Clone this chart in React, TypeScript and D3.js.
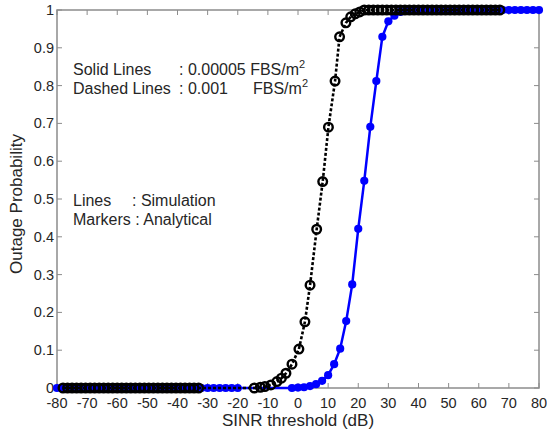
import React from "react";
import * as d3 from "d3";

// Blue series (0.00005 FBS/m^2): analytical markers
const blueX = [
  -80, -78, -76, -74, -72, -70, -68, -66, -64, -62, -60, -58, -56, -54, -52, -50,
  -48, -46, -44, -42, -40, -38, -36, -34, -32, -30, -28, -26, -24, -22, -20,
  -2, 0, 2, 4, 6, 8, 10, 12, 14, 16, 18, 20, 22, 24, 26, 28, 30, 32,
  34, 36, 38, 40, 42, 44, 46, 48, 50, 52, 54, 56, 58, 60, 62, 64, 66, 68, 70, 72, 74, 76, 78, 80,
];
const blueY = [
  0, 0, 0, 0, 0, 0, 0, 0, 0, 0, 0, 0, 0, 0, 0, 0,
  0, 0, 0, 0, 0, 0, 0, 0, 0, 0, 0, 0, 0, 0, 0,
  0, 0.001, 0.002, 0.005, 0.01, 0.019, 0.034, 0.063, 0.104, 0.177, 0.274, 0.421, 0.548, 0.691, 0.812, 0.929, 0.97, 0.985,
  0.995, 1, 1, 1, 1, 1, 1, 1, 1, 1, 1, 1, 1, 1, 1, 1, 1, 1, 1, 1, 1, 1, 1, 1,
];

// Black series (0.001 FBS/m^2): analytical markers
const blackX = [
  -78, -76.5, -75, -73.5, -72, -70.5, -69, -67.5, -66, -64.5, -63, -61.5, -60, -58.5, -57, -55.5,
  -54, -52.5, -51, -49.5, -48, -46.5, -45, -43.5, -42, -40.5, -39, -37.5, -36, -34.5, -33,
  -14.5, -12.5, -11, -9, -7, -5.5, -4, -2, 0.3, 2.3, 4, 6.2, 8.2, 10.1, 12.3, 13.8, 15.9, 17.5,
  19, 20.5, 22, 23.5, 25, 26.5, 28, 29.5, 31, 32.5, 34, 35.5, 37, 38.5, 40, 41.5, 43, 44.5, 46,
  47.5, 49, 50.5, 52, 53.5, 55, 56.5, 58, 59.5, 61, 62.5, 64, 65.5, 67,
];
const blackY = [
  0, 0, 0, 0, 0, 0, 0, 0, 0, 0, 0, 0, 0, 0, 0, 0,
  0, 0, 0, 0, 0, 0, 0, 0, 0, 0, 0, 0, 0, 0, 0,
  0, 0.002, 0.004, 0.008, 0.017, 0.026, 0.039, 0.063, 0.103, 0.175, 0.272, 0.42, 0.546, 0.69, 0.812, 0.929, 0.966, 0.982,
  0.99, 0.995, 1, 1, 1, 1, 1, 1, 1, 1, 1, 1, 1, 1, 1, 1, 1, 1, 1,
  1, 1, 1, 1, 1, 1, 1, 1, 1, 1, 1, 1, 1, 1,
];

const xTicks = [-80, -70, -60, -50, -40, -30, -20, -10, 0, 10, 20, 30, 40, 50, 60, 70, 80];
const yTicks = [0, 0.1, 0.2, 0.3, 0.4, 0.5, 0.6, 0.7, 0.8, 0.9, 1];

const W = 547;
const H = 436;
const left = 57;
const right = 539;
const top = 10;
const bottom = 388;
const FONT = "'Liberation Sans', Arial, sans-serif";
const TXT = "#262626";
const AX = "#8c8c8c";

export default function App() {
  const x = d3.scaleLinear().domain([-80, 80]).range([left, right]);
  const y = d3.scaleLinear().domain([0, 1]).range([bottom, top]);
  const line = d3
    .line<[number, number]>()
    .x((d) => x(d[0]))
    .y((d) => y(d[1]));
  const blue: [number, number][] = blueX.map((v, i) => [v, blueY[i]]);
  const black: [number, number][] = blackX.map((v, i) => [v, blackY[i]]);

  return (
    <svg
      width={W}
      height={H}
      style={{ position: "absolute", left: 0, top: 0, background: "#fff" }}
      fontFamily={FONT}
    >
      <rect x={left} y={top} width={right - left} height={bottom - top} fill="#fff" stroke={AX} strokeWidth={1.5} />
      {xTicks.map((t) => (
        <g key={"x" + t}>
          <line x1={x(t)} x2={x(t)} y1={bottom} y2={bottom - 5} stroke={AX} />
          <line x1={x(t)} x2={x(t)} y1={top} y2={top + 5} stroke={AX} />
          <text x={x(t)} y={408} textAnchor="middle" fontSize={14.5} fill={TXT}>
            {t}
          </text>
        </g>
      ))}
      {yTicks.map((t) => (
        <g key={"y" + t}>
          <line x1={left} x2={left + 5} y1={y(t)} y2={y(t)} stroke={AX} />
          <line x1={right} x2={right - 5} y1={y(t)} y2={y(t)} stroke={AX} />
          <text x={54} y={y(t) + 5} textAnchor="end" fontSize={14.5} fill={TXT}>
            {String(t)}
          </text>
        </g>
      ))}

      <path d={line(blue) || ""} fill="none" stroke="#0000ff" strokeWidth={2.5} />
      {blue.map((d, i) => (
        <circle key={"b" + i} cx={x(d[0])} cy={y(d[1])} r={4.1} fill="#0000ff" />
      ))}

      <path
        d={line(black) || ""}
        fill="none"
        stroke="#000"
        strokeWidth={2.6}
        strokeDasharray="3,2"
      />
      {black.map((d, i) => (
        <circle key={"k" + i} cx={x(d[0])} cy={y(d[1])} r={4.3} fill="none" stroke="#000" strokeWidth={2.4} />
      ))}

      <g fontSize={16} fill={TXT}>
        <text x={73} y={75}>Solid Lines</text>
        <text x={179} y={75}>
          : 0.00005 FBS/m<tspan dy={-7} fontSize={11}>2</tspan>
        </text>
        <text x={73} y={94}>Dashed Lines</text>
        <text x={179} y={94}>: 0.001</text>
        <text x={253} y={94}>
          FBS/m<tspan dy={-7} fontSize={11}>2</tspan>
        </text>
        <text x={73} y={206}>Lines</text>
        <text x={132} y={206}>: Simulation</text>
        <text x={73} y={225}>Markers : Analytical</text>
      </g>

      <text x={(left + right) / 2} y={426} textAnchor="middle" fontSize={17} fill={TXT}>
        SINR threshold (dB)
      </text>
      <text
        transform={`translate(22, 204) rotate(-90)`}
        textAnchor="middle"
        fontSize={17}
        fill={TXT}
      >
        Outage Probability
      </text>
    </svg>
  );
}
